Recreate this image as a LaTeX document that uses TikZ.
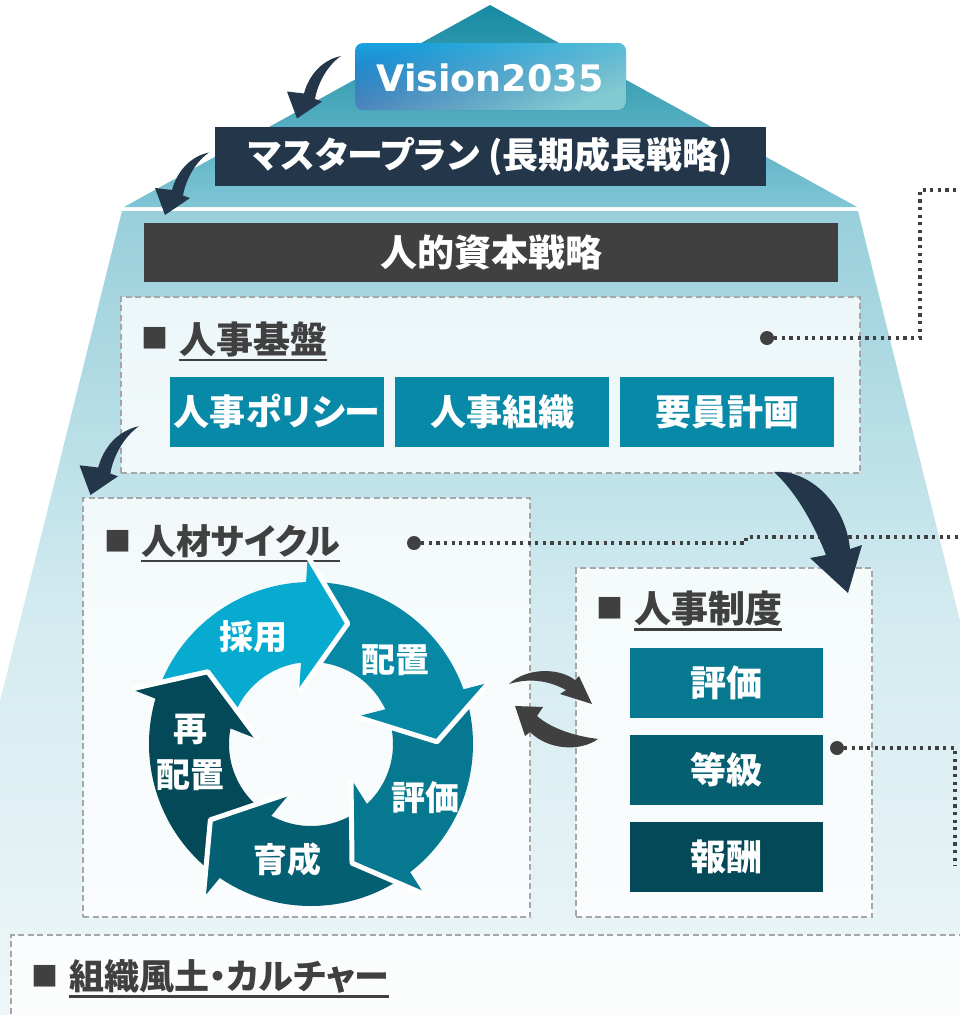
\documentclass[tikz,border=0pt]{standalone}
\usepackage{fontspec}
\newfontfamily\jp{Noto Sans CJK JP}[RawFeature=+palt]
\newfontfamily\visfont{DejaVu Sans}
\usetikzlibrary{fadings}
\definecolor{navy}{HTML}{23364A}
\definecolor{dgray}{HTML}{404040}
\definecolor{tealA}{HTML}{0889A7}
\definecolor{hyo}{HTML}{06788F}
\definecolor{tok}{HTML}{055F71}
\definecolor{hou}{HTML}{034957}
\definecolor{cyA}{HTML}{07ABCF}
\definecolor{cyB}{HTML}{0789A6}
\definecolor{cyC}{HTML}{06788F}
\definecolor{cyD}{HTML}{045F72}
\definecolor{cyE}{HTML}{044957}
\definecolor{dashg}{HTML}{A6A6A6}
\definecolor{trapT}{HTML}{98CFDB}
\definecolor{trapM}{HTML}{D3EBF0}
\definecolor{trapB}{HTML}{EEF6F8}
\definecolor{triT}{HTML}{168BA2}
\definecolor{triB}{HTML}{80C6D6}
\definecolor{visT}{HTML}{1AA2DE}
\definecolor{visB}{HTML}{2C5CAE}
\definecolor{visL}{HTML}{86D0D3}
\tikzfading[name=visfade, left color=transparent!100, right color=transparent!5]
\tikzset{
  boxtext/.style={inner sep=0pt, text=white, font=\jp\bfseries\fontsize{36}{40}\selectfont},
  hd/.style={inner sep=0pt, anchor=west, text=dgray, font=\jp\bfseries\fontsize{35}{40}\selectfont},
  hdk/.style={hd, font=\jp\bfseries\fontsize{37}{40}\selectfont},
  sq/.style={inner sep=0pt, text=dgray, font=\jp\fontsize{27}{30}\selectfont},
  ul/.style={draw=dgray, line width=2.5pt},
  dbox/.style={draw=dashg, line width=2pt, dash pattern=on 6pt off 3.5pt, fill=white, fill opacity=0.8, inner sep=0pt},
  dot/.style={circle, fill=dgray, minimum size=14pt, inner sep=0pt},
  dotl/.style={draw=dgray, line width=3.2pt, dash pattern=on 3.2pt off 4.4pt},
  cyl/.style={inner sep=0pt, text=white, font=\jp\bfseries\fontsize{34}{38}\selectfont, align=center},
}
\begin{document}
\begin{tikzpicture}[x=1pt,y=-1pt]
\clip (0,0) rectangle (960,1015);
\fill[white] (0,0) rectangle (960,1015);
% pyramid body
\shade[top color=trapT, bottom color=trapB, middle color=trapM] (122,211) -- (858,211) -- (1058,1015) -- (-78,1015) -- cycle;
\shade[top color=triT, bottom color=triB] (490,5) -- (857,207) -- (124,207) -- cycle;
% Vision
\shade[top color=visT, bottom color=visB, rounded corners=8pt] (355,43) rectangle (626,110);
\fill[visL, path fading=visfade, fading angle=-35, rounded corners=8pt] (355,43) rectangle (626,110);
\node[inner sep=0pt, text=white, font=\visfont\bfseries\fontsize{36.5}{40}\selectfont] (vision) at (490,78) {Vision2035};
% master plan
\node[boxtext, fill=navy, minimum width=551pt, minimum height=59pt] (mp) at (490.5,156.5) {マスタープラン (長期成長戦略)};
% bar
\node[boxtext, fill=dgray, minimum width=694pt, minimum height=59pt, font=\jp\bfseries\fontsize{37}{40}\selectfont] (bar) at (491,252.5) {人的資本戦略};
% dashed boxes
\node[dbox, minimum width=739pt, minimum height=176pt] (kiban) at (490.5,384.5) {};
\node[dbox, minimum width=447pt, minimum height=419pt] (jinzai) at (306.5,707.5) {};
\node[dbox, minimum width=296pt, minimum height=349pt] (seido) at (724,742.5) {};
\node[dbox, minimum width=989pt, minimum height=125pt] (culture) at (505.5,997.5) {};
% 人事基盤
\node[sq] (sq1) at (154.5,338) {■};
\node[hdk] (h1) at (179,339) {人事基盤};
\draw[ul] ([yshift=-3pt]h1.south west) -- ([yshift=-3pt]h1.south east);
\node[dot] (d1) at (767,338) {};
\node[boxtext, fill=tealA, minimum width=214pt, minimum height=70pt] (b1) at (277,411.5) {人事ポリシー};
\node[boxtext, fill=tealA, minimum width=214pt, minimum height=70pt] (b2) at (502,411.5) {人事組織};
\node[boxtext, fill=tealA, minimum width=214pt, minimum height=70pt] (b3) at (727,411.5) {要員計画};
% 人材サイクル
\node[sq] (sq2) at (117.5,541) {■};
\node[hd] (h2) at (141,541) {人材サイクル};
\draw[ul] ([yshift=-3pt]h2.south west) -- ([yshift=-3pt]h2.south east);
\node[dot] (d2) at (414,543) {};
% 人事制度
\node[sq] (sq3) at (609.5,608.5) {■};
\node[hdk] (h3) at (634,608.5) {人事制度};
\draw[ul] ([yshift=-3pt]h3.south west) -- ([yshift=-3pt]h3.south east);
\node[boxtext, fill=hyo, minimum width=193pt, minimum height=70pt] (s1) at (726.5,683) {評価};
\node[boxtext, fill=tok, minimum width=193pt, minimum height=70pt] (s2) at (726.5,769.5) {等級};
\node[boxtext, fill=hou, minimum width=193pt, minimum height=70pt] (s3) at (726.5,857) {報酬};
\node[dot] (d3) at (837,748) {};
% culture
\node[sq] (sq4) at (45,976.5) {■};
\node[hd] (h4) at (69,976.5) {組織風土・カルチャー};
\draw[ul] ([yshift=-3pt]h4.south west) -- ([yshift=-3pt]h4.south east);
% cycle
\begin{scope}[shift={(311,744)}, yscale=-1]
  \foreach \T/\c in {73/cyA, 1/cyB, -71/cyC, -143/cyD, 145/cyE} {
    \fill[\c] (\T+87.5:162) arc[start angle=\T+87.5, end angle=\T+16, radius=162]
      -- (\T+16:82) arc[start angle=\T+16, end angle=\T+87.5, radius=82] -- cycle;
  }
  \foreach \T/\c in {73/cyA, 1/cyB, -71/cyC, -143/cyD, 145/cyE} {
    \fill[\c] (\T+18:188) -- (\T:126) -- (\T+30:53) -- cycle;
    \draw[white, line width=5pt, line join=round] (\T+18:188) -- (\T:126) -- (\T+30:53);
  }
\end{scope}
\node[cyl] (c1) at (253,637) {採用};
\node[cyl] (c2) at (395,660) {配置};
\node[cyl] (c3) at (425,798) {評価};
\node[cyl] (c4) at (287,860) {育成};
\node[cyl, font=\jp\bfseries\fontsize{34}{46}\selectfont] (c5) at (190,752) {再\\配置};
% dotted connectors
\coordinate (e1) at (962,190);
\coordinate (e2) at (962,537);
\coordinate (e3) at (955,866);
\draw[dotl] (d1) -- ++(153,0) |- (e1);
\draw[dotl] (d2) -- ++(332,0) -- ++(0,-6) -- (e2);
\draw[dotl] (d3) -| (e3);
% navy arrows
\begin{scope}[shift={(297,118.5)}]
  \fill[navy] (44,-62.5) .. controls (25,-58.5) and (12,-43.5) .. (7,-25) -- (-10,-27) -- (0,0) -- (25,-17) -- (18,-19.5) .. controls (21,-36.5) and (31,-53.5) .. (44,-62.5) -- cycle;
\end{scope}
\begin{scope}[shift={(165,215)}]
  \fill[navy] (44,-62.5) .. controls (25,-58.5) and (12,-43.5) .. (7,-25) -- (-10,-27) -- (0,0) -- (25,-17) -- (18,-19.5) .. controls (21,-36.5) and (31,-53.5) .. (44,-62.5) -- cycle;
\end{scope}
\begin{scope}[shift={(90.5,495)}, scale=1.1]
  \fill[navy] (44,-62.5) .. controls (25,-58.5) and (12,-43.5) .. (7,-25) -- (-10,-27) -- (0,0) -- (25,-17) -- (18,-19.5) .. controls (21,-36.5) and (31,-53.5) .. (44,-62.5) -- cycle;
\end{scope}
\fill[navy] (774,472) .. controls (806,469) and (845,500) .. (850,549) -- (862,545) -- (848,593) -- (810,558) -- (826,555) .. controls (813,522) and (795,491) .. (774,472) -- cycle;
% swap arrows
\fill[dgray] (509,684) .. controls (526,668) and (558,667) .. (575,680) -- (579,676) -- (592,704) -- (560,694) -- (566,690) .. controls (548,680) and (528,678) .. (509,684) -- cycle;
\fill[dgray] (598,739) .. controls (580,752) and (548,750) .. (530,732) -- (525,736) -- (515,706) -- (543,707) -- (537,716) .. controls (552,729) and (575,736) .. (598,739) -- cycle;
\end{tikzpicture}
\end{document}
